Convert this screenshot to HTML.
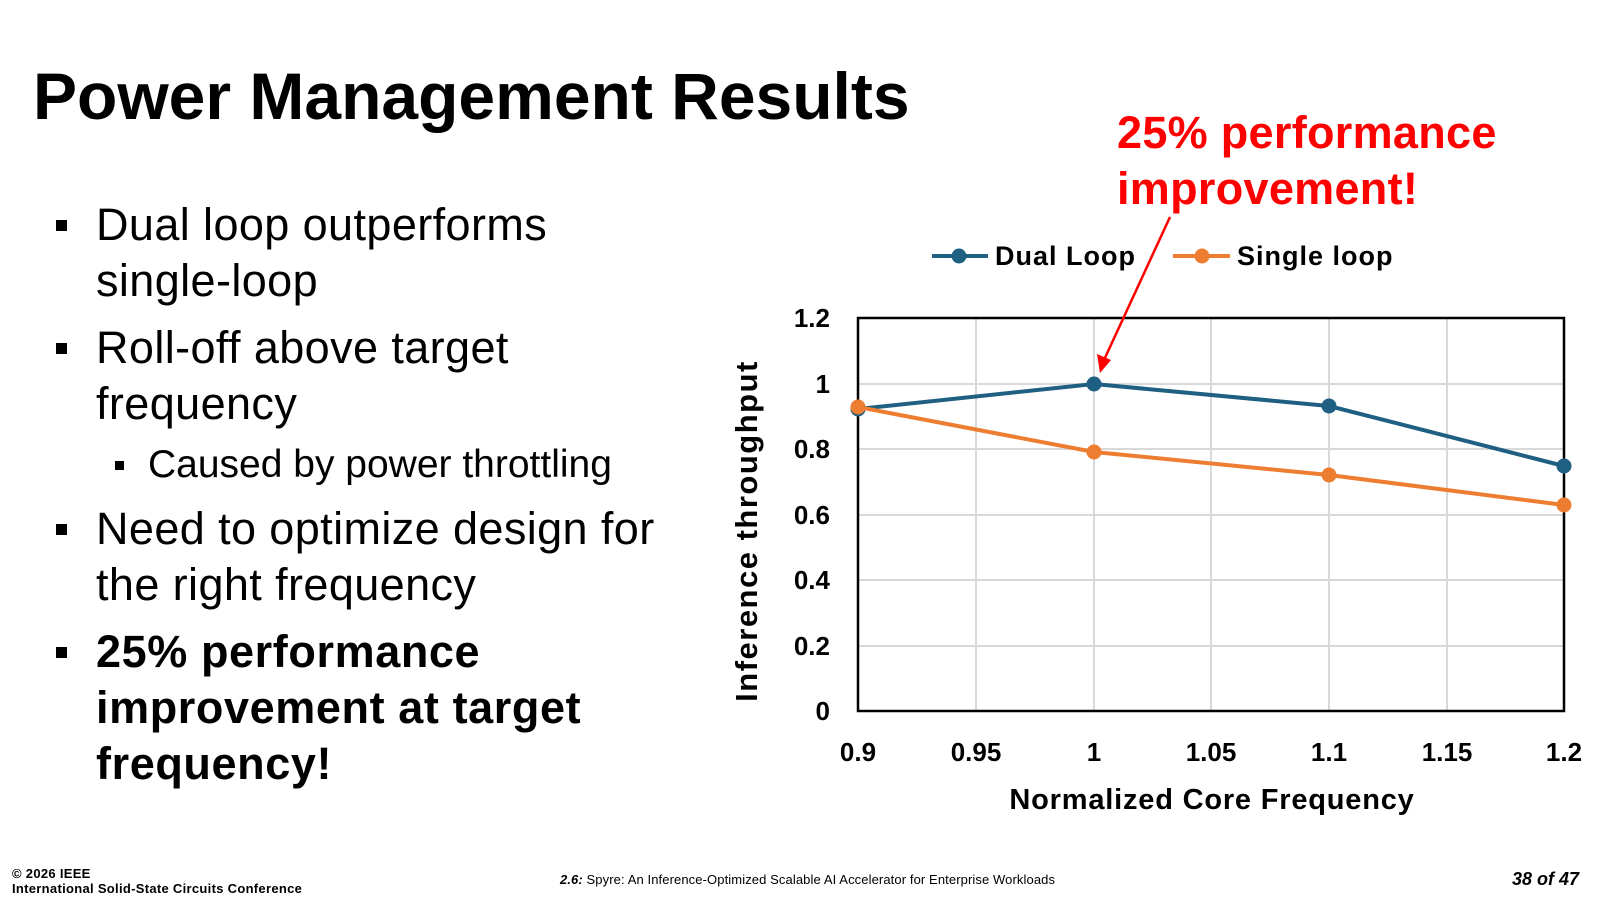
<!DOCTYPE html>
<html><head><meta charset="utf-8"><style>
body{margin:0;width:1600px;height:900px;background:#fff;position:relative;overflow:hidden;font-family:"Liberation Sans",Arial,sans-serif;color:#000}
.a{position:absolute;white-space:nowrap}
.b{position:absolute;left:96px;font-size:45px;line-height:56px;letter-spacing:0.4px}
.sq{position:absolute;width:11px;height:11px;background:#000}
</style></head><body>
<div class="a" style="left:33px;top:58px;font-size:66px;font-weight:bold">Power Management Results</div>

<div class="sq" style="left:56px;top:220px"></div>
<div class="b" style="top:197px">Dual loop outperforms<br>single-loop</div>
<div class="sq" style="left:56px;top:343px"></div>
<div class="b" style="top:320px">Roll-off above target<br>frequency</div>
<div class="sq" style="left:115px;top:461px;width:9px;height:9px"></div>
<div class="a" style="left:148px;top:443px;font-size:39px">Caused by power throttling</div>
<div class="sq" style="left:56px;top:524px"></div>
<div class="b" style="top:501px">Need to optimize design for<br>the right frequency</div>
<div class="sq" style="left:56px;top:647px"></div>
<div class="b" style="top:624px;font-weight:bold;letter-spacing:0.6px">25% performance<br>improvement at target<br>frequency!</div>

<div class="a" style="left:1117px;top:105px;font-size:45px;line-height:56px;font-weight:bold;color:#f00;letter-spacing:0.3px">25% performance<br>improvement!</div>

<svg class="a" style="left:0;top:0" width="1600" height="900">
<g stroke="#d9d9d9" stroke-width="2">
<line x1="858" y1="384" x2="1564" y2="384"/><line x1="858" y1="449" x2="1564" y2="449"/><line x1="858" y1="515" x2="1564" y2="515"/><line x1="858" y1="580" x2="1564" y2="580"/><line x1="858" y1="646" x2="1564" y2="646"/>
<line x1="976" y1="318" x2="976" y2="711"/><line x1="1094" y1="318" x2="1094" y2="711"/><line x1="1211" y1="318" x2="1211" y2="711"/><line x1="1329" y1="318" x2="1329" y2="711"/><line x1="1447" y1="318" x2="1447" y2="711"/>
</g>
<rect x="858" y="318" width="706" height="393" fill="none" stroke="#000" stroke-width="2.5"/>
<polyline points="858,409 1094,384 1329,406 1564,466" fill="none" stroke="#1f5f82" stroke-width="4"/>
<g fill="#1f5f82"><circle cx="858" cy="409" r="7.5"/><circle cx="1094" cy="384" r="7.5"/><circle cx="1329" cy="406" r="7.5"/><circle cx="1564" cy="466" r="7.5"/></g>
<polyline points="858,407 1094,452 1329,475 1564,505" fill="none" stroke="#ed7d31" stroke-width="4"/>
<g fill="#ed7d31"><circle cx="858" cy="407" r="7.5"/><circle cx="1094" cy="452" r="7.5"/><circle cx="1329" cy="475" r="7.5"/><circle cx="1564" cy="505" r="7.5"/></g>
<line x1="1170" y1="217" x2="1104" y2="360" stroke="#f00" stroke-width="2.5"/>
<polygon points="1100,373 1097,354 1111,360" fill="#f00"/>
<line x1="932" y1="256" x2="988" y2="256" stroke="#1f5f82" stroke-width="4"/><circle cx="959" cy="256" r="7.5" fill="#1f5f82"/>
<line x1="1173" y1="256" x2="1230" y2="256" stroke="#ed7d31" stroke-width="4"/><circle cx="1202" cy="256" r="7.5" fill="#ed7d31"/>
<g font-family="Liberation Sans,Arial,sans-serif" font-weight="bold" font-size="26">
<text x="995" y="265" font-size="27" letter-spacing="1">Dual Loop</text><text x="1237" y="265" font-size="27" letter-spacing="1">Single loop</text>
<g text-anchor="end"><text x="830" y="327">1.2</text><text x="830" y="393">1</text><text x="830" y="458">0.8</text><text x="830" y="524">0.6</text><text x="830" y="589">0.4</text><text x="830" y="655">0.2</text><text x="830" y="720">0</text></g>
<g text-anchor="middle"><text x="858" y="761">0.9</text><text x="976" y="761">0.95</text><text x="1094" y="761">1</text><text x="1211" y="761">1.05</text><text x="1329" y="761">1.1</text><text x="1447" y="761">1.15</text><text x="1564" y="761">1.2</text>
<text x="1212" y="809" font-size="29" letter-spacing="0.8">Normalized Core Frequency</text>
<text transform="translate(757,531) rotate(-90)" font-size="31" letter-spacing="1.5">Inference throughput</text></g>
</g>
</svg>

<div class="a" style="left:12px;top:866px;font-size:13px;font-weight:bold;line-height:15px;letter-spacing:0.3px">© 2026 IEEE<br>International Solid-State Circuits Conference</div>
<div class="a" style="left:560px;top:872px;font-size:13px;letter-spacing:0.1px"><b><i>2.6:</i></b> Spyre: An Inference-Optimized Scalable AI Accelerator for Enterprise Workloads</div>
<div class="a" style="right:21px;top:869px;font-size:18px;font-weight:bold;font-style:italic">38 of 47</div>
</body></html>
